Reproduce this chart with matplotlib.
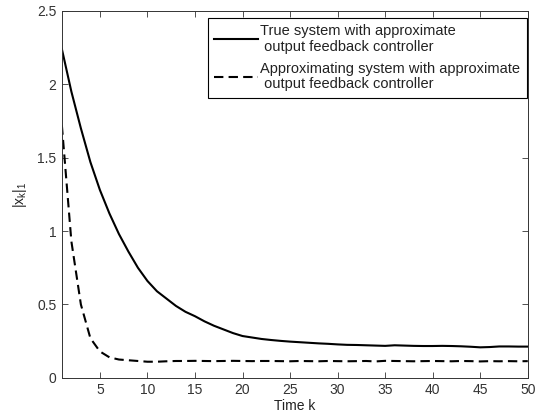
import numpy as np
import matplotlib.pyplot as plt

plt.rcParams['font.family'] = ['Liberation Sans', 'DejaVu Sans']
plt.rcParams['mathtext.fontset'] = 'custom'
plt.rcParams['mathtext.rm'] = 'Liberation Sans'
plt.rcParams['mathtext.it'] = 'Liberation Sans'

# time steps
k = np.arange(1, 51)

# true system with approximate output feedback controller
true_sys = [2.24, 1.95, 1.70, 1.47, 1.28, 1.12, 0.98, 0.86, 0.75, 0.66,
            0.59, 0.54, 0.49, 0.45, 0.42, 0.385, 0.355, 0.33, 0.305, 0.285,
            0.275, 0.265, 0.258, 0.252, 0.247, 0.243, 0.239, 0.235, 0.232, 0.228,
            0.225, 0.224, 0.222, 0.22, 0.218, 0.222, 0.22, 0.218, 0.217, 0.217,
            0.218, 0.217, 0.215, 0.212, 0.208, 0.21, 0.214, 0.214, 0.213, 0.213]

# approximating system with approximate output feedback controller
approx_sys = [1.72, 0.93, 0.50, 0.27, 0.18, 0.14, 0.125, 0.12, 0.115, 0.11,
              0.11, 0.113, 0.115, 0.115, 0.116, 0.115, 0.114, 0.115, 0.116, 0.115,
              0.114, 0.115, 0.115, 0.114, 0.113, 0.115, 0.114, 0.113, 0.115, 0.114,
              0.113, 0.114, 0.115, 0.112, 0.116, 0.115, 0.114, 0.113, 0.114, 0.115,
              0.114, 0.113, 0.115, 0.114, 0.112, 0.114, 0.113, 0.114, 0.113, 0.114]

fig = plt.figure(figsize=(5.38, 4.18), dpi=100)
ax = fig.add_axes([0.115, 0.096, 0.866, 0.878])

ax.plot(k, true_sys, color='black', linewidth=1.5,
        label='True system with approximate\n output feedback controller')
ax.plot(k, approx_sys, color='black', linewidth=1.5, linestyle=(0, (4.5, 2.5)),
        label='Approximating system with approximate\n output feedback controller')

ax.set_xlim(1, 50)
ax.set_ylim(0, 2.5)
ax.set_xticks(np.arange(5, 51, 5))
ax.set_yticks([0, 0.5, 1, 1.5, 2, 2.5])
ax.set_yticklabels(['0', '0.5', '1', '1.5', '2', '2.5'])
ax.tick_params(direction='in', top=True, right=True, labelsize=10,
               length=4, width=0.6, colors='#333333', labelcolor='#333333', pad=4)
for s in ax.spines.values():
    s.set_linewidth(0.7)
    s.set_color('#333333')

ax.set_xlabel('Time k', fontsize=10, labelpad=1, color='#222222')
ax.set_ylabel('|x$_k$|$_1$', fontsize=10, labelpad=6, color='#222222')

leg = ax.legend(loc='upper right', bbox_to_anchor=(0.998, 0.981), fontsize=10.5,
                frameon=True, fancybox=False, edgecolor='black', handlelength=3,
                borderaxespad=0, labelspacing=0.6, handletextpad=0.15,
                borderpad=0.45, framealpha=1)
leg.get_frame().set_linewidth(0.8)
for t in leg.get_texts():
    t.set_linespacing(1.1)
    t.set_color('#222222')

plt.savefig('out.png', dpi=100)
